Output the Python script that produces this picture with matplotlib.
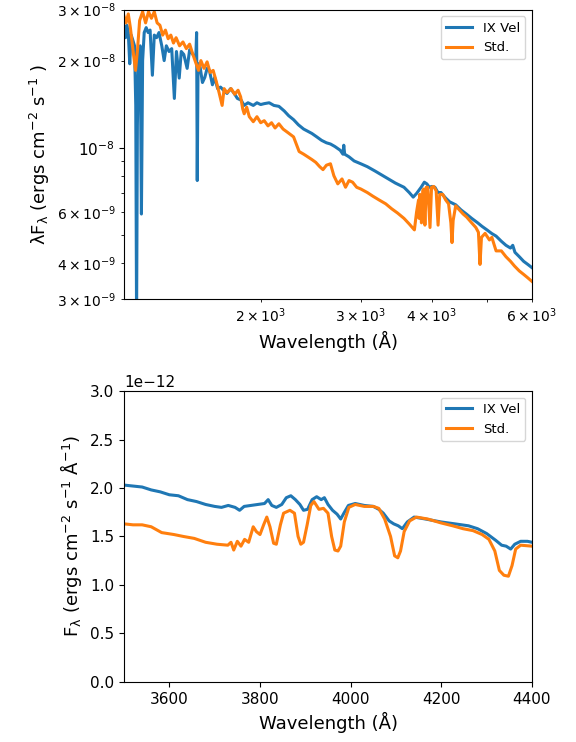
import matplotlib
matplotlib.use("Agg")
import matplotlib.pyplot as plt
import numpy as np

# ---------------- Top panel data (wavelength in Angstrom, lambda*F in 1e-9 units)
ixvel_sed_wave = [1150, 1157, 1163, 1170, 1177, 1184, 1192, 1200, 1206, 1210, 1214, 1220, 1228, 1234,
                  1240, 1248, 1258, 1268, 1278, 1290, 1300, 1312, 1325, 1340, 1353, 1365, 1380, 1395,
                  1410, 1422, 1438, 1450, 1465, 1485, 1500, 1520, 1538, 1543, 1547, 1552, 1565, 1580,
                  1595, 1610, 1625, 1645, 1660, 1680, 1700, 1720, 1745, 1770, 1797, 1820, 1848, 1870,
                  1900, 1941, 1970, 2000, 2029, 2070, 2110, 2153, 2200, 2240, 2285, 2330, 2380, 2420,
                  2461, 2510, 2560, 2610, 2653, 2700, 2760, 2790, 2800, 2810, 2860, 2920, 3000, 3080,
                  3180, 3318, 3450, 3573, 3650, 3709, 3760, 3830, 3880, 3920, 3960, 4000, 4050, 4100,
                  4150, 4230, 4300, 4405, 4500, 4600, 4700, 4816, 4900, 5000, 5100, 5188, 5300, 5400,
                  5500, 5550, 5600, 5700, 5800, 5900, 6000]
ixvel_sed_flux = [25.5, 24.0, 26.5, 25.0, 19.5, 24.5, 23.5, 22.5, 14.0, 2.5, 12.0, 21.5, 22.5, 5.9,
                  20.0, 25.0, 26.0, 25.0, 25.5, 17.8, 24.5, 24.0, 25.0, 22.5, 20.0, 22.5, 21.5, 22.0,
                  14.8, 21.5, 17.4, 21.5, 21.0, 18.8, 21.8, 21.0, 20.5, 25.0, 7.7, 19.5, 19.0, 16.8,
                  17.5, 18.8, 18.5, 16.5, 17.5, 16.0, 16.2, 15.8, 15.4, 16.0, 15.4, 14.8, 14.6, 14.0,
                  14.3, 14.0, 14.3, 14.1, 14.2, 14.3, 14.0, 13.9, 13.4, 12.9, 12.5, 12.0, 11.6, 11.4,
                  11.2, 10.9, 10.6, 10.4, 10.3, 10.1, 9.8, 9.5, 10.2, 9.5, 9.3, 9.0, 8.8, 8.6,
                  8.3, 7.9, 7.55, 7.3, 7.0, 6.75, 6.95, 7.3, 7.6, 7.5, 7.3, 7.35, 7.3, 7.0,
                  7.0, 6.7, 6.5, 6.35, 6.1, 5.9, 5.7, 5.5, 5.35, 5.2, 5.05, 4.95, 4.75, 4.6,
                  4.5, 4.6, 4.35, 4.2, 4.05, 3.95, 3.85]

std_sed_wave = [1150, 1160, 1170, 1180, 1195, 1205, 1215, 1225, 1240, 1255, 1270, 1285, 1300, 1315,
                1330, 1345, 1360, 1375, 1390, 1405, 1420, 1440, 1460, 1480, 1500, 1520, 1540, 1555,
                1570, 1590, 1610, 1630, 1650, 1670, 1690, 1711, 1725, 1745, 1775, 1800, 1825, 1844,
                1860, 1871, 1890, 1910, 1941, 1970, 2000, 2029, 2060, 2090, 2120, 2153, 2190, 2230,
                2285, 2310, 2337, 2380, 2420, 2461, 2500, 2540, 2574, 2610, 2653, 2690, 2733, 2780,
                2820, 2860, 2902, 2950, 3000, 3080, 3150, 3230, 3318, 3400, 3480, 3573, 3650, 3727,
                3760, 3790, 3798, 3810, 3835, 3855, 3870, 3889, 3910, 3935, 3970, 3995, 4030, 4070,
                4102, 4130, 4180, 4230, 4280, 4320, 4340, 4360, 4405, 4470, 4540, 4605, 4700, 4780,
                4830, 4861, 4890, 4962, 5050, 5100, 5188, 5300, 5400, 5500, 5590, 5700, 5800, 5900,
                6000]
std_sed_flux = [28.5, 27.0, 29.0, 26.0, 21.0, 18.5, 22.0, 27.5, 29.5, 27.0, 29.5, 28.0, 29.5, 27.0,
                26.5, 24.5, 25.5, 23.8, 24.5, 23.0, 24.0, 22.5, 23.2, 22.0, 22.8, 21.0, 19.5, 18.5,
                20.0, 18.8, 19.8, 18.2, 18.5, 17.0, 15.5, 14.0, 16.0, 15.5, 16.0, 15.3, 15.8, 15.0,
                13.6, 13.1, 13.8, 12.8, 12.3, 12.8, 12.2, 12.4, 11.9, 12.2, 11.7, 12.1, 11.6, 11.3,
                10.9, 10.3, 9.7, 9.5, 9.3, 9.1, 8.9, 8.6, 8.4, 8.7, 8.8, 8.0, 7.5, 7.8,
                7.3, 7.7, 7.6, 7.3, 7.2, 7.0, 6.8, 6.6, 6.4, 6.15, 5.95, 5.7, 5.45, 5.2,
                6.0, 6.6, 5.7, 6.9, 5.5, 7.1, 7.2, 5.4, 7.3, 7.3, 5.3, 7.3, 7.35, 7.1,
                5.4, 6.9, 6.9, 6.6, 6.4, 5.5, 4.7, 5.6, 6.3, 6.1, 5.9, 5.76, 5.5, 5.3,
                5.1, 3.95, 4.9, 5.06, 4.8, 4.9, 4.4, 4.4, 4.2, 4.05, 3.9, 3.75, 3.65, 3.55,
                3.45]

# ---------------- Bottom panel data (wavelength in Angstrom, F in 1e-12 units)
ixvel_opt_wave = [3500, 3520, 3540, 3560, 3580, 3600, 3620, 3640, 3660, 3680, 3700, 3715, 3730, 3745,
                  3755, 3765, 3780, 3795, 3810, 3818, 3826, 3836, 3848, 3858, 3868, 3878, 3888, 3896,
                  3905, 3915, 3925, 3935, 3942, 3950, 3960, 3970, 3978, 3985, 3995, 4010, 4030, 4050,
                  4062, 4072, 4085, 4095, 4105, 4114, 4125, 4140, 4165, 4199, 4230, 4260, 4280, 4300,
                  4320, 4333, 4343, 4353, 4362, 4375, 4390, 4400]
ixvel_opt_flux = [2.03, 2.02, 2.01, 1.98, 1.96, 1.93, 1.92, 1.88, 1.86, 1.83, 1.81, 1.80, 1.82, 1.80,
                  1.77, 1.81, 1.82, 1.83, 1.84, 1.88, 1.82, 1.80, 1.83, 1.90, 1.92, 1.88, 1.83, 1.77,
                  1.78, 1.88, 1.91, 1.88, 1.90, 1.83, 1.77, 1.73, 1.68, 1.74, 1.82, 1.84, 1.82, 1.81,
                  1.78, 1.74, 1.66, 1.63, 1.61, 1.58, 1.65, 1.70, 1.68, 1.65, 1.63, 1.61, 1.58, 1.53,
                  1.46, 1.41, 1.40, 1.37, 1.42, 1.45, 1.45, 1.44]

std_opt_wave = [3500, 3520, 3540, 3560, 3583, 3610, 3631, 3655, 3680, 3705, 3729, 3736, 3742, 3750,
                3758, 3766, 3775, 3785, 3792, 3800, 3808, 3815, 3822, 3830, 3836, 3845, 3852, 3866,
                3876, 3884, 3890, 3896, 3904, 3912, 3919, 3930, 3940, 3950, 3958, 3965, 3972, 3978,
                3986, 3996, 4010, 4030, 4050, 4062, 4075, 4088, 4097, 4104, 4110, 4118, 4130, 4145,
                4170, 4199, 4225, 4248, 4270, 4290, 4305, 4318, 4328, 4338, 4348, 4356, 4364, 4375,
                4400]
std_opt_flux = [1.63, 1.62, 1.62, 1.60, 1.54, 1.52, 1.50, 1.48, 1.44, 1.42, 1.41, 1.44, 1.36, 1.45,
                1.40, 1.47, 1.44, 1.60, 1.55, 1.52, 1.62, 1.70, 1.60, 1.43, 1.42, 1.62, 1.74, 1.77,
                1.74, 1.50, 1.42, 1.44, 1.62, 1.82, 1.86, 1.78, 1.79, 1.74, 1.50, 1.36, 1.35, 1.40,
                1.65, 1.80, 1.83, 1.81, 1.81, 1.79, 1.68, 1.50, 1.30, 1.28, 1.35, 1.55, 1.66, 1.70,
                1.68, 1.64, 1.61, 1.58, 1.56, 1.52, 1.47, 1.35, 1.15, 1.10, 1.09, 1.20, 1.37, 1.41,
                1.40]

labels = ["IX Vel", "Std."]
blue = "#1f77b4"
orange = "#ff7f0e"

fig = plt.figure(figsize=(5.76, 7.42), dpi=100)
ax1 = fig.add_axes([0.2153, 0.597, 0.7083, 0.390])
ax2 = fig.add_axes([0.2153, 0.081, 0.7083, 0.392])

lw = 2.2
ax1.plot(ixvel_sed_wave, np.array(ixvel_sed_flux) * 1e-9, color=blue, lw=lw, label=labels[0])
ax1.plot(std_sed_wave, np.array(std_sed_flux) * 1e-9, color=orange, lw=lw, label=labels[1])
ax1.set_xscale("log")
ax1.set_yscale("log")
ax1.set_xlim(1150, 6000)
ax1.set_ylim(3e-9, 3e-8)
ax1.set_xlabel("Wavelength (Å)", fontsize=13)
ax1.set_ylabel(r"$\mathrm{\lambda F_\lambda}$ (ergs cm$^{-2}$ s$^{-1}$ )", fontsize=13)
ax1.tick_params(labelsize=11)
ax1.legend(loc="upper right", fontsize=9.5)

ax2.plot(ixvel_opt_wave, np.array(ixvel_opt_flux) * 1e-12, color=blue, lw=lw, label=labels[0])
ax2.plot(std_opt_wave, np.array(std_opt_flux) * 1e-12, color=orange, lw=lw, label=labels[1])
ax2.set_xlim(3500, 4400)
ax2.set_ylim(0, 3e-12)
ax2.set_xlabel("Wavelength (Å)", fontsize=13)
ax2.set_ylabel(r"$\mathrm{F_\lambda}$ (ergs cm$^{-2}$ s$^{-1}$ Å$^{-1}$)", fontsize=13)
ax2.tick_params(labelsize=11)
ax2.yaxis.get_offset_text().set_fontsize(11)
ax2.legend(loc="upper right", fontsize=9.5)

fig.savefig("out.png", dpi=100)
